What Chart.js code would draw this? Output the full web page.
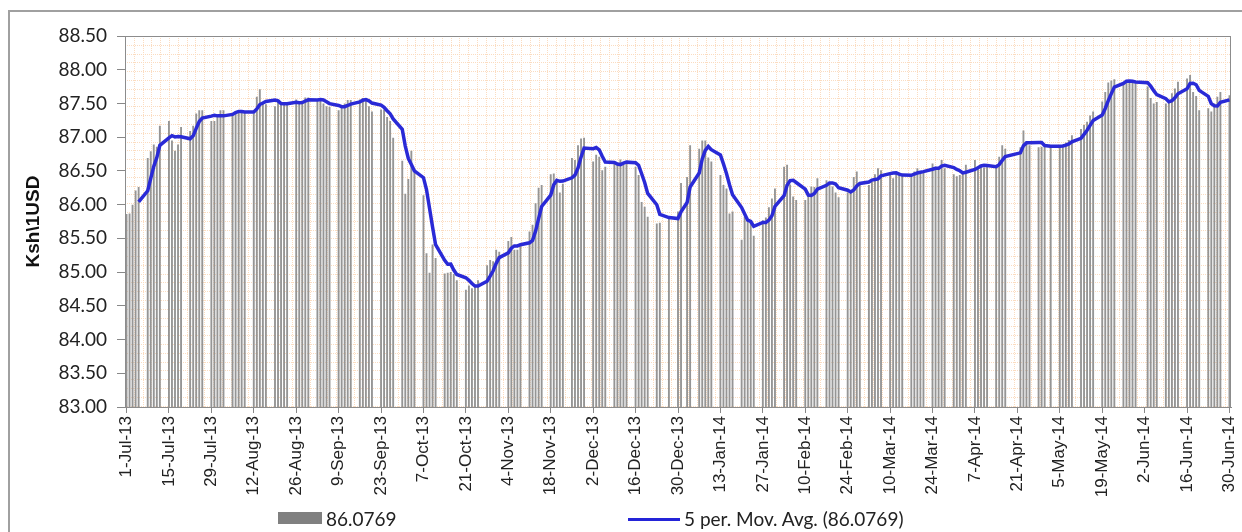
<!DOCTYPE html>
<html>
<head>
<meta charset="utf-8">
<script src="https://cdn.jsdelivr.net/npm/chart.js@4.4.0/dist/chart.umd.min.js"></script>
<style>
html, body { margin: 0; padding: 0; background: #fff; overflow: hidden; }
#wrap { position: relative; width: 1242px; height: 532px; overflow: hidden; }
#frame { position: absolute; left: 8px; top: 10px; width: 1300px; height: 600px; border: 2px solid #a0a0a0; box-sizing: border-box; }
canvas { position: absolute; left: 0; top: 0; }
.leg { position: absolute; font-family: Lato, sans-serif; font-size: 19px; color: #222; line-height: 20px; white-space: nowrap; }
</style>
</head>
<body>
<div id="wrap">
  <div id="frame"></div>
  <canvas id="rateChart" width="1242" height="532"></canvas>
  <div class="leg" style="left:278px;top:512px;width:44px;height:12px;background:#808080;"></div>
  <div class="leg" style="left:326px;top:509px;">86.0769</div>
  <div class="leg" style="left:628px;top:518px;width:52px;height:3px;background:#2424d8;"></div>
  <div class="leg" style="left:684px;top:509px;">5 per. Mov. Avg. (86.0769)</div>
</div>
<script>
// Ksh per USD, one row per week (Mon..Fri), null = no fixing that day
var startDate = Date.UTC(2013, 6, 1);   // Monday 1-Jul-13
var weekValues = [
  [85.86, 85.87, 86.00, 86.21, 86.26], // 1-Jul
  [86.69, 86.79, 86.89, 86.86, 87.17],
  [87.24, 86.95, 86.80, 86.89, 87.15],
  [87.09, 87.17, 87.35, 87.40, 87.40],
  [87.24, 87.24, 87.30, 87.40, 87.40], // 29-Jul
  [87.35, 87.38, 87.38, 87.39, 87.37],
  [87.35, 87.60, 87.71, 87.50, 87.49],
  [87.46, 87.53, 87.51, 87.48, 87.50],
  [87.56, 87.50, 87.53, 87.59, 87.59], // 26-Aug
  [87.54, 87.54, 87.50, 87.46, 87.45],
  [87.40, 87.45, 87.50, 87.55, 87.55],
  [87.56, 87.58, 87.55, 87.46, 87.38],
  [87.41, 87.41, 87.30, 87.24, 86.99], // 23-Sep
  [86.65, 86.16, 86.38, 86.80, 86.52],
  [86.14, 85.28, 84.99, 85.41, 85.21],
  [84.98, 84.99, 85.00, 84.97, 84.88],
  [84.74, 84.80, 84.76, 84.78, 84.88], // 21-Oct
  [85.10, 85.18, 85.16, 85.33, 85.30],
  [85.46, 85.52, 85.33, 85.33, 85.39],
  [85.60, 85.70, 86.02, 86.25, 86.29],
  [86.45, 86.46, 86.35, 86.18, 86.31], // 18-Nov
  [86.69, 86.66, 86.88, 86.98, 86.99],
  [86.64, 86.74, 86.71, 86.51, 86.56],
  [86.61, 86.62, 86.67, 86.62, 86.63],
  [86.56, 86.44, 86.04, 85.97, 85.82], // 16-Dec
  [85.72, 85.73, null, null, 85.80],
  [85.90, 86.32, null, 86.41, 86.88],
  [86.83, 86.95, 86.95, 86.70, 86.64],
  [86.44, 86.29, 86.24, 85.87, 85.90], // 13-Jan
  [85.48, 85.82, 85.78, 85.77, 85.54],
  [85.77, 85.81, 85.96, 86.09, 86.24],
  [86.56, 86.59, 86.30, 86.12, 86.07],
  [86.07, 86.15, 86.27, 86.26, 86.39], // 10-Feb
  [86.36, 86.33, 86.27, 86.18, 86.11],
  [86.18, 86.20, 86.41, 86.49, 86.29],
  [86.29, 86.34, 86.45, 86.54, 86.51],
  [86.46, 86.39, 86.46, 86.44, 86.44], // 10-Mar
  [86.44, 86.49, 86.54, 86.49, 86.49],
  [86.61, 86.56, 86.54, 86.66, 86.54],
  [86.45, 86.42, 86.44, 86.50, 86.59],
  [86.66, 86.55, 86.57, 86.55, 86.57], // 7-Apr
  [86.57, 86.71, 86.88, 86.83, null],
  [null, 86.85, 87.10, 86.92, 86.88],
  [86.85, 86.86, 86.87, null, 86.87],
  [86.87, 86.88, 86.92, 86.96, 87.03], // 5-May
  [87.12, 87.18, 87.23, 87.32, 87.38],
  [87.53, 87.67, 87.81, 87.84, 87.86],
  [87.80, 87.84, 87.83, 87.82, 87.80],
  [null, 87.75, 87.58, 87.50, 87.52],  // 2-Jun
  [87.50, 87.53, 87.65, 87.72, 87.82],
  [87.87, 87.92, 87.67, 87.61, 87.40],
  [87.43, 87.38, 87.50, 87.60, 87.67],
  [87.62]                              // 30-Jun
];
var tickLabels = ["1-Jul-13", "15-Jul-13", "29-Jul-13", "12-Aug-13", "26-Aug-13", "9-Sep-13",
  "23-Sep-13", "7-Oct-13", "21-Oct-13", "4-Nov-13", "18-Nov-13", "2-Dec-13", "16-Dec-13",
  "30-Dec-13", "13-Jan-14", "27-Jan-14", "10-Feb-14", "24-Feb-14", "10-Mar-14", "24-Mar-14",
  "7-Apr-14", "21-Apr-14", "5-May-14", "19-May-14", "2-Jun-14", "16-Jun-14", "30-Jun-14"];
var numDays = 365;
var maPeriod = 5;

var months = ["Jan","Feb","Mar","Apr","May","Jun","Jul","Aug","Sep","Oct","Nov","Dec"];
var dayLabels = [];
var daily = [];
for (var d = 0; d < numDays; d++) {
  var dt = new Date(startDate + d * 86400000);
  dayLabels.push(dt.getUTCDate() + "-" + months[dt.getUTCMonth()] + "-" + String(dt.getUTCFullYear()).slice(2));
  var w = Math.floor(d / 7), wd = d % 7;
  var v = (wd < 5 && weekValues[w] && weekValues[w][wd] !== undefined) ? weekValues[w][wd] : null;
  daily.push(v);
}

// Excel style moving-average trendline over the existing points
var movAvg = [];
var last = [];
for (var i = 0; i < daily.length; i++) {
  if (daily[i] === null) { movAvg.push(null); continue; }
  last.push(daily[i]);
  if (last.length > maPeriod) last.shift();
  if (last.length === maPeriod) {
    var s = 0;
    for (var k = 0; k < last.length; k++) s += last[k];
    movAvg.push(s / maPeriod);
  } else {
    movAvg.push(null);
  }
}

var bgGrid = {
  id: 'bgGrid',
  beforeDatasetsDraw: function (chart) {
    var a = chart.chartArea, c = chart.ctx;
    c.save();
    c.strokeStyle = '#fbdcc0';
    c.lineWidth = 1;
    c.setLineDash([1, 1]);
    c.beginPath();
    for (var x = a.left + 8.8; x < a.right; x += 8.8) {
      c.moveTo(Math.round(x) + 0.5, a.top);
      c.lineTo(Math.round(x) + 0.5, a.bottom);
    }
    for (var y = a.top + 8.8; y < a.bottom; y += 8.8) {
      c.moveTo(a.left, Math.round(y) + 0.5);
      c.lineTo(a.right, Math.round(y) + 0.5);
    }
    c.stroke();
    c.restore();
  },
  afterDraw: function (chart) {
    var a = chart.chartArea, c = chart.ctx;
    c.save();
    c.strokeStyle = '#8c8c8c';
    c.lineWidth = 1;
    c.strokeRect(Math.round(a.left) + 0.5, Math.round(a.top) + 0.5, Math.round(a.right - a.left) - 1, Math.round(a.bottom - a.top));
    c.restore();
  }
};

var ctx = document.getElementById('rateChart');
var chart = new Chart(ctx, {
  type: 'bar',
  data: {
    labels: dayLabels,
    datasets: [
      {
        type: 'line',
        label: '5 per. Mov. Avg. (86.0769)',
        data: movAvg,
        borderColor: '#2a2ad6',
        borderWidth: 3.5,
        pointRadius: 0,
        spanGaps: true,
        tension: 0,
        order: 0
      },
      {
        type: 'bar',
        label: '86.0769',
        data: daily,
        backgroundColor: '#959595',
        barPercentage: 0.62,
        categoryPercentage: 1,
        order: 1
      }
    ]
  },
  options: {
    responsive: false,
    animation: false,
    devicePixelRatio: 1,
    layout: { padding: { top: 36, right: 11, left: 0, bottom: 0 } },
    plugins: { legend: { display: false }, tooltip: { enabled: false } },
    scales: {
      x: {
        offset: true,
        grid: { drawOnChartArea: false, color: '#888', tickLength: 6, offset: false },
        border: { color: '#888' },
        ticks: {
          autoSkip: false, minRotation: 90, maxRotation: 90, padding: 3,
          font: { family: 'Liberation Sans', size: 17 }, color: '#222',
          callback: function (v, i) { return i % 14 === 0 ? tickLabels[i / 14] : null; }
        },
        afterFit: function (s) { s.height = 125; s.paddingLeft = 0; s.paddingRight = 0; }
      },
      y: {
        min: 83, max: 88.5,
        grid: { drawOnChartArea: false, color: '#888', tickLength: 8 },
        border: { color: '#888' },
        ticks: {
          stepSize: 0.5, padding: 10,
          font: { family: 'Lato', size: 19 }, color: '#222',
          callback: function (v) { return v.toFixed(2); }
        },
        title: {
          display: true, text: 'Ksh\\1USD', color: '#111',
          font: { family: 'Liberation Sans', size: 19, weight: 'bold' },
          padding: { top: 22, bottom: 0 }
        },
        afterFit: function (s) { s.width = 125; s.paddingTop = 0; s.paddingBottom = 0; }
      }
    }
  },
  plugins: [bgGrid]
});
</script>
</body>
</html>
